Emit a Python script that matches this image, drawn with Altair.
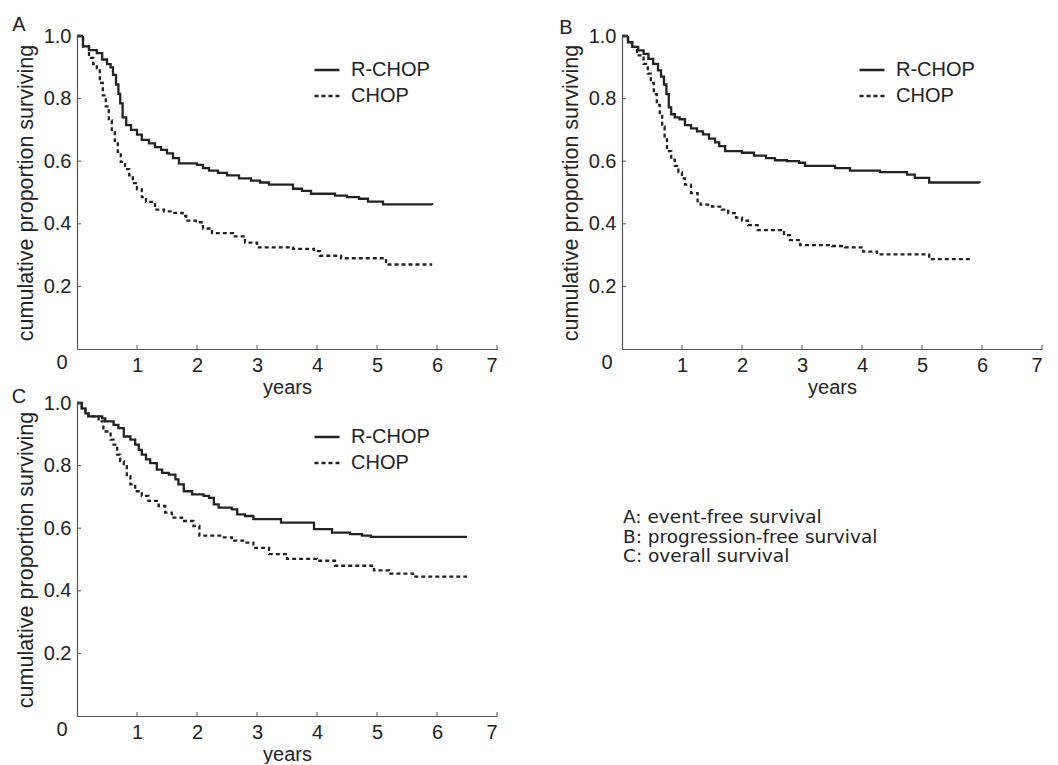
import altair as alt
import pandas as pd

INK = "#222222"
AXIS_INK = "#555555"
FONT = "Liberation Sans"
NOTE_FONT = "DejaVu Sans"

SERIES = ["R-CHOP", "CHOP"]
X_TICKS = [1, 2, 3, 4, 5, 6, 7]
Y_TICKS = [0.2, 0.4, 0.6, 0.8, 1.0]
ORIGIN_LABEL = "0"
Y_TITLE = "cumulative proportion surviving"
X_TITLE = "years"
NOTES = "A: event-free survival\nB: progression-free survival\nC: overall survival"

# Panel A: event-free survival
A_RCHOP_T = [0, 0.1, 0.2, 0.33, 0.42, 0.5, 0.56, 0.6, 0.65, 0.69, 0.72, 0.76, 0.82, 0.9, 1.0, 1.08,
             1.2, 1.3, 1.4, 1.5, 1.6, 1.7, 2.0, 2.1, 2.2, 2.35, 2.5, 2.7, 2.9, 3.05, 3.2, 3.6, 3.75,
             3.9, 4.3, 4.5, 4.7, 4.85, 5.1, 5.92]
A_RCHOP_S = [1.0, 0.967, 0.955, 0.945, 0.925, 0.91, 0.9, 0.876, 0.845, 0.815, 0.785, 0.74, 0.715,
             0.7, 0.685, 0.668, 0.657, 0.645, 0.636, 0.625, 0.61, 0.593, 0.588, 0.578, 0.57, 0.563,
             0.555, 0.545, 0.538, 0.532, 0.525, 0.512, 0.505, 0.496, 0.49, 0.485, 0.48, 0.471,
             0.462, 0.46]
A_CHOP_T = [0, 0.1, 0.2, 0.27, 0.33, 0.38, 0.43, 0.48, 0.53, 0.58, 0.63, 0.68, 0.73, 0.8, 0.87,
            0.93, 1.0, 1.08, 1.15, 1.3, 1.45, 1.6, 1.76, 1.82, 1.98, 2.1, 2.25, 2.6, 2.8, 3.0, 3.6,
            3.95, 4.05, 4.4, 5.15, 5.92]
A_CHOP_S = [1.0, 0.967, 0.93, 0.91, 0.89, 0.85, 0.81, 0.775, 0.73, 0.7, 0.665, 0.63, 0.598, 0.575,
            0.555, 0.53, 0.51, 0.485, 0.47, 0.445, 0.44, 0.435, 0.425, 0.41, 0.405, 0.385, 0.37,
            0.36, 0.34, 0.325, 0.32, 0.313, 0.298, 0.29, 0.27, 0.27]

# Panel B: progression-free survival
B_RCHOP_T = [0, 0.1, 0.17, 0.27, 0.36, 0.44, 0.52, 0.6, 0.65, 0.7, 0.74, 0.78, 0.82, 0.88, 0.96,
             1.05, 1.15, 1.25, 1.35, 1.45, 1.55, 1.62, 1.72, 2.0, 2.2, 2.4, 2.55, 2.75, 2.95, 3.05,
             3.55, 3.8, 4.3, 4.75, 4.88, 5.12, 5.96]
B_RCHOP_S = [1.0, 0.98, 0.965, 0.954, 0.943, 0.927, 0.911, 0.89, 0.87, 0.845, 0.814, 0.772, 0.75,
             0.74, 0.734, 0.715, 0.705, 0.695, 0.686, 0.672, 0.66, 0.648, 0.632, 0.627, 0.618, 0.61,
             0.603, 0.6, 0.595, 0.585, 0.578, 0.57, 0.565, 0.557, 0.547, 0.532, 0.53]
B_CHOP_T = [0, 0.1, 0.17, 0.25, 0.36, 0.43, 0.48, 0.53, 0.58, 0.63, 0.67, 0.71, 0.75, 0.82, 0.88,
            0.94, 1.0, 1.05, 1.15, 1.26, 1.31, 1.5, 1.66, 1.77, 1.9, 2.0, 2.1, 2.26, 2.7, 2.8, 2.97,
            3.5, 3.72, 4.02, 4.25, 5.12, 5.8]
B_CHOP_S = [1.0, 0.98, 0.965, 0.938, 0.911, 0.88, 0.85, 0.814, 0.78, 0.745, 0.71, 0.67, 0.632,
            0.605, 0.585, 0.565, 0.545, 0.525, 0.498, 0.472, 0.461, 0.455, 0.445, 0.434, 0.42,
            0.41, 0.396, 0.38, 0.364, 0.348, 0.332, 0.329, 0.325, 0.311, 0.302, 0.287, 0.287]

# Panel C: overall survival
C_RCHOP_T = [0, 0.08, 0.14, 0.19, 0.42, 0.47, 0.61, 0.69, 0.78, 0.89, 0.97, 1.03, 1.08, 1.15, 1.22,
             1.33, 1.42, 1.53, 1.64, 1.69, 1.78, 1.92, 2.11, 2.2, 2.28, 2.36, 2.58, 2.67, 2.8, 2.94,
             3.4, 3.95, 4.25, 4.55, 4.75, 4.9, 6.5]
C_RCHOP_S = [1.0, 0.983, 0.967, 0.957, 0.951, 0.941, 0.93, 0.92, 0.893, 0.883, 0.867, 0.85, 0.835,
             0.82, 0.808, 0.787, 0.777, 0.771, 0.756, 0.74, 0.718, 0.708, 0.703, 0.697, 0.676,
             0.666, 0.66, 0.644, 0.639, 0.629, 0.618, 0.597, 0.586, 0.581, 0.576, 0.572, 0.572]
C_CHOP_T = [0, 0.08, 0.14, 0.19, 0.36, 0.44, 0.56, 0.61, 0.67, 0.72, 0.78, 0.83, 0.89, 0.97, 1.08,
            1.19, 1.36, 1.47, 1.58, 1.75, 1.94, 2.04, 2.42, 2.58, 2.8, 2.94, 3.2, 3.5, 4.0, 4.3,
            4.95, 5.2, 5.6, 6.5]
C_CHOP_S = [1.0, 0.983, 0.967, 0.957, 0.941, 0.909, 0.883, 0.867, 0.835, 0.814, 0.798, 0.766, 0.74,
            0.718, 0.703, 0.687, 0.671, 0.65, 0.634, 0.623, 0.607, 0.576, 0.571, 0.56, 0.554, 0.537,
            0.517, 0.502, 0.496, 0.48, 0.465, 0.455, 0.445, 0.445]

W = 420
H = 313


def km_frame(rt, rs, ct, cs):
    return pd.concat([
        pd.DataFrame({"t": rt, "s": rs, "arm": SERIES[0]}),
        pd.DataFrame({"t": ct, "s": cs, "arm": SERIES[1]}),
    ], ignore_index=True)


def panel(letter, df, letter_dx, letter_dy, notes=False):
    xs = alt.Scale(domain=[0, 7], nice=False, zero=False)
    ys = alt.Scale(domain=[0, 1], nice=False)
    x_axis = alt.Axis(values=X_TICKS, format="d", title=X_TITLE, ticks=False, grid=False,
                      labelPadding=6, titlePadding=2, titleFontSize=20)
    y_axis = alt.Axis(values=Y_TICKS, format=".1f", title=Y_TITLE, ticks=False, grid=False,
                      labelPadding=6, titlePadding=6, titleFontSize=21.5)
    curves = alt.Chart(df).mark_line(
        interpolate="step-after", strokeWidth=2.3, color=INK
    ).encode(
        x=alt.X("t:Q", scale=xs, axis=x_axis),
        y=alt.Y("s:Q", scale=ys, axis=y_axis),
        strokeDash=alt.StrokeDash("arm:N", sort=SERIES,
            scale=alt.Scale(domain=SERIES, range=[[1, 0], [4, 3]]),
            legend=alt.Legend(
                orient="none", legendX=236, legendY=20, title=None, direction="vertical",
                symbolType="stroke", symbolSize=625, symbolStrokeWidth=2.3,
                symbolStrokeColor=INK, labelFontSize=20, labelFont=FONT, labelColor=INK,
                labelOffset=10, rowPadding=2)),
    )
    xt = alt.Chart(pd.DataFrame({"t": X_TICKS})).mark_rule(color=AXIS_INK, strokeWidth=1).encode(
        x=alt.X("t:Q", scale=xs, axis=x_axis), y=alt.value(H), y2=alt.value(H - 4))
    yt = alt.Chart(pd.DataFrame({"s": Y_TICKS})).mark_rule(color=AXIS_INK, strokeWidth=1).encode(
        y=alt.Y("s:Q", scale=ys, axis=y_axis), x=alt.value(0), x2=alt.value(4))
    origin = alt.Chart(pd.DataFrame({"lab": [ORIGIN_LABEL]})).mark_text(
        font=FONT, fontSize=20, color=INK, align="center", baseline="middle"
    ).encode(text="lab:N", x=alt.value(-15), y=alt.value(H + 14))
    tag = alt.Chart(pd.DataFrame({"lab": [letter]})).mark_text(
        font=FONT, fontSize=20, color=INK, align="center", baseline="middle"
    ).encode(text="lab:N", x=alt.value(letter_dx), y=alt.value(letter_dy))
    layers = [curves, xt, yt, origin, tag]
    if notes:
        note = alt.Chart(pd.DataFrame({"lab": [NOTES]})).mark_text(
            font=NOTE_FONT, fontSize=18.5, color=INK, align="left", baseline="top",
            lineBreak="\n", lineHeight=19.5
        ).encode(text="lab:N", x=alt.value(546), y=alt.value(105))
        layers.append(note)
    return alt.layer(*layers).properties(width=W, height=H)


pa = panel("A", km_frame(A_RCHOP_T, A_RCHOP_S, A_CHOP_T, A_CHOP_S), -58, -11)
pb = panel("B", km_frame(B_RCHOP_T, B_RCHOP_S, B_CHOP_T, B_CHOP_S), -56, -8)
pc = panel("C", km_frame(C_RCHOP_T, C_RCHOP_S, C_CHOP_T, C_CHOP_S), -58, -6, notes=True)

chart = alt.concat(
    pa, pb, pc, columns=2, spacing={"row": 54, "column": 125}, bounds="flush"
).resolve_scale(
    strokeDash="independent", x="independent", y="independent"
).resolve_legend(
    strokeDash="independent"
).properties(
    padding={"left": 3, "top": 7, "right": 0, "bottom": 0},
    background="white"
).configure_view(
    strokeWidth=0
).configure_axis(
    domainColor=AXIS_INK, domainWidth=1.2, labelFont=FONT, labelFontSize=20,
    labelColor=INK, titleFont=FONT, titleFontWeight="normal", titleColor=INK
)

chart.save("out.html", embed_options={"renderer": "svg", "actions": False})
